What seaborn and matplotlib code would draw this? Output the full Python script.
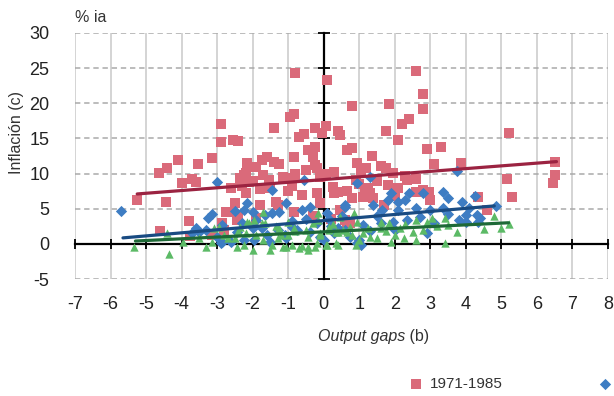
import matplotlib
matplotlib.use("Agg")
import matplotlib.pyplot as plt
import seaborn as sns

# ---------------- data ----------------
periods = ["1971-1985", "", ""]

pink_x = [-5.25, -4.65, -4.4, -4.1, -4.0, -3.7, -3.6, -3.55, -3.15, -4.45, -3.8, -4.6, -2.85, -2.7, -3.75, -3.15,
          -2.9, -2.9, -2.55, -2.4, -2.15, -2.2, -2.35, -2.1, -2.3, -1.9, -1.75, -1.6, -1.4, -1.4, -1.25, -1.1,
          -0.85, -0.95, -0.85, -0.8, -0.7, -0.55, -0.45, -0.25, -0.3, -0.2, -0.2,
          0.1, 0.05, -0.05, 0.4, 0.45, 0.8, 0.65, 0.8, -0.25, -0.4, 1.35, 1.85, 1.75, 2.1, 2.2, 2.4, 2.6, 2.8,
          2.8, 2.9, 3.3, 3.1, 3.85, 5.2, 5.15, 5.3, 6.5, 6.5, 6.45, 1.6, 1.75, 1.05, 1.2, 1.95, 2.3, 2.35, 2.6,
          0.9, 0.25, 0.3, 0.65, 1.15, 1.3, 1.8, 2.95, 2.8, 4.35, 4.6,
          -0.8, -0.5, -0.25, 0.05, 0.3, -0.1,
          -2.25, -2.35, -2.0, -1.55, -1.15, -0.8, -1.35, -1.8, -2.2, -2.5, -2.45, -2.4, -2.75, -1.9, -1.3, -0.6,
          -0.1, 0.4, 0.45, 0.65, -0.85,
          1.7, 3.0, 2.6, 0.8, 1.1, 1.4, 0.6, 0.75, 1.0, 1.5, 2.1, 2.0,
          -1.7, -1.5, -1.0, -0.9, -1.8, -2.6, -2.8, -0.3, 0.2, 1.25, 0.95]
pink_y = [6.3, 10.1, 10.8, 11.9, 8.7, 9.2, 8.8, 11.4, 12.2, 6.0, 3.3, 1.8, 3.0, 4.6, 1.1, 1.3,
          17.1, 14.5, 14.8, 14.7, 11.5, 10.1, 9.4, 8.8, 8.3, 11.0, 12.0, 12.4, 16.5, 11.7, 11.4, 9.4,
          12.4, 18.1, 18.5, 24.3, 15.2, 15.6, 13.4, 16.5, 12.4, 10.8, 7.2,
          23.3, 16.7, 15.8, 16.0, 15.5, 19.6, 13.4, 13.6, 13.8, 13.4, 12.5, 19.9, 16.0, 14.8, 17.1, 17.8, 24.6, 21.3,
          19.2, 13.5, 13.8, 11.4, 11.5, 15.8, 9.2, 6.7, 11.6, 9.8, 8.7, 11.1, 10.8, 10.2, 10.8, 10.1, 9.7, 9.1, 9.2,
          9.1, 8.1, 7.2, 7.5, 7.7, 7.2, 8.4, 7.4, 7.7, 6.7, 4.8,
          10.0, 10.5, 11.2, 10.0, 10.2, 9.5,
          9.8, 8.7, 8.9, 9.1, 9.5, 9.5, 6.0, 5.5, 7.2, 5.8, 3.4, 3.8, 4.6, 3.7, 5.5, 7.0,
          5.8, 7.4, 4.8, 3.1, 4.6,
          5.5, 6.3, 7.4, 6.5, 6.7, 6.5, 3.4, 3.0, 8.5, 9.0, 8.0, 6.8,
          9.8, 8.0, 7.5, 8.3, 7.8, 8.0, 2.0, 4.0, 3.5, 8.0, 11.5]

blue_x = [-5.7, -3.0, -3.15, -3.25, -3.6, -3.5, -3.3, -2.85, -2.9, -1.45, -0.55, -2.5, -2.25, -2.15, -2.0, -1.65,
          -1.45, -1.25, -1.05, -0.6, -0.4, 0.1, -2.45, -2.0, -1.75, -1.6, -1.3, -0.9, -0.4, -1.95, -1.5, -2.85,
          -1.05, -0.75, -2.6, -2.25, -3.0, -3.7, -0.2, 0.2, -0.1, 0.3,
          0.95, 1.3, 1.9, 2.4, 2.8, 3.35, 3.5, 3.9, 2.1, 2.3, 1.8, 0.6, 1.4, 1.65, 2.1, 2.6, 3.0, 3.35, 3.8, 2.35,
          1.95, 1.6, 1.1, 0.95, 1.05, 0.75,
          4.25, 4.0, 4.3, 4.4, 4.85, 4.1, 4.0, 4.35, 0.6, 3.75,
          0.15, 0.4, 0.5, -0.5, -0.9, -1.9, -2.3, -1.1, 0.0, 0.6, 1.3, 1.5, 2.0, 2.7, 3.1, 3.5, 2.9, 1.0]
blue_y = [4.7, 8.8, 4.3, 3.7, 2.3, 1.7, 2.0, 2.7, 0.1, 7.6, 9.1, 4.7, 4.8, 5.8, 4.6, 4.1,
          4.4, 4.6, 5.8, 4.8, 5.3, 4.4, 1.7, 2.3, 2.3, 1.3, 2.0, 2.4, 1.7, 0.6, 0.3, 0.3,
          0.9, 2.0, 0.3, 0.5, 1.0, 1.6, 3.0, 2.6, 1.0, 1.5,
          8.7, 9.5, 7.2, 7.3, 7.2, 7.4, 6.5, 6.0, 6.0, 6.3, 6.3, 5.3, 5.5, 4.8, 4.8, 5.1, 4.8, 5.1, 3.4, 3.4,
          3.1, 3.0, 2.7, 0.1, -0.1, 1.0,
          6.8, 4.1, 4.1, 3.7, 5.4, 5.1, 3.1, 3.1, 5.5, 10.4,
          3.5, 2.2, 4.0, 3.5, 3.2, 3.4, 2.9, 1.3, 0.5, 2.0, 1.8, 4.0, 2.0, 3.8, 3.0, 4.2, 1.5, 0.5]

green_x = [-5.35, -4.35, -3.95, -3.3, -3.15, -3.1, -2.95, -4.4, -2.45, -2.15, -2.0, -1.7, -1.5, -1.15, -1.05,
           -0.7, -0.45, -0.25, -2.2, -1.75, -1.2, -1.0, -0.15, 0.85, 1.9, 2.25, 2.6, 2.6, 3.05, 3.4, 3.4, 3.75,
           4.5, 4.8, 5.0, 5.2, 0.35, 0.9, 0.05, -0.6, 1.85, 1.6, 2.15, 2.5, 2.9, 1.25, 1.0, 1.3, 0.75, 0.35,
           0.55, 0.15, -0.1, 0.45, 0.95, 1.6, 1.75,
           -1.95, -2.1, -2.35, -1.65, -1.35, -1.25, -0.85, -0.5, -0.15, -2.7, -2.5, -2.25, -1.7, -1.45, -0.9,
           -0.45, -0.2, 0.1, 0.4, -1.3, -1.0, -0.45, -0.1, 0.15, 0.4, 0.65, 0.25, -2.8, -3.5, -0.8, -1.9, 1.1,
           1.5, 2.0, 2.3, 2.8, 3.2, 3.5, -2.4, -0.3, 0.8]
green_y = [-0.4, -1.4, 0.3, -0.4, 0.2, 2.3, 2.4, 1.6, -0.4, 3.1, -0.9, 4.6, -0.9, -0.4, -0.5,
           -0.6, -0.9, -0.5, 1.6, 3.0, 1.3, 3.1, 4.4, 4.4, 0.3, 0.8, 0.5, 3.4, 3.7, 3.7, 0.1, 1.7,
           2.1, 4.0, 2.2, 2.8, 0.1, -0.1, -0.2, -0.3, 3.0, 3.1, 2.3, 1.7, 3.1, 2.3, 0.6, 1.0, 2.4, 1.7,
           2.0, 2.0, 1.6, 3.8, 3.1, 2.2, 1.8,
           3.4, 3.0, 2.4, 3.0, 2.6, 2.3, 2.3, 2.0, 3.4, 0.8, 0.9, -0.1, 0.6, -0.1, -0.1,
           -0.4, 0.1, -0.1, -0.1, 0.8, 1.3, 1.0, 1.3, 2.4, 1.7, 1.7, 2.8, 1.3, 0.8, 1.8, 1.2, 1.5,
           0.9, 1.2, 2.8, 2.0, 2.5, 2.7, 1.9, 2.9, 1.2]

# trend lines (end points)
trend_pink_x, trend_pink_y = [-5.25, 6.55], [7.1, 11.7]
trend_blue_x, trend_blue_y = [-5.65, 4.8], [0.85, 5.4]
trend_green_x, trend_green_y = [-5.3, 5.2], [0.4, 3.0]

x_ticks = list(range(-7, 9))
y_ticks = list(range(-5, 31, 5))

# ---------------- styling ----------------
sns.set_theme(style="white")
plt.rcParams["font.family"] = ["Liberation Sans", "DejaVu Sans"]

c_pink, c_blue, c_green = "#DA6A7A", "#3E7DC3", "#5CBA66"
t_pink, t_blue, t_green = "#9B2341", "#194B82", "#1E6937"
txt = "#222222"

fig = plt.figure(figsize=(6.14, 3.96), dpi=100)
ax = fig.add_axes([75 / 614, 117 / 396, 533 / 614, 246 / 396])

sns.scatterplot(x=pink_x, y=pink_y, ax=ax, marker="s", s=44, color=c_pink, linewidth=0,
                label="pink", zorder=3)
sns.scatterplot(x=blue_x, y=blue_y, ax=ax, marker="D", s=33, color=c_blue, linewidth=0,
                label="blue", zorder=3)
sns.scatterplot(x=green_x, y=green_y, ax=ax, marker="^", s=36, color=c_green, linewidth=0,
                label="green", zorder=3)

sns.lineplot(x=trend_pink_x, y=trend_pink_y, ax=ax, color=t_pink, lw=2.3, zorder=4)
sns.lineplot(x=trend_blue_x, y=trend_blue_y, ax=ax, color=t_blue, lw=2.3, zorder=4)
sns.lineplot(x=trend_green_x, y=trend_green_y, ax=ax, color=t_green, lw=2.3, zorder=4)

handles, _ = ax.get_legend_handles_labels()
handles = handles[:3]
if ax.get_legend() is not None:
    ax.get_legend().remove()

ax.set_xlim(-7, 8)
ax.set_ylim(-5, 30)
ax.set_xticks(x_ticks)
ax.set_yticks(y_ticks)
ax.set_xticklabels([str(v) for v in x_ticks])
ax.set_yticklabels([str(v) for v in y_ticks])

# grid
ax.set_axisbelow(True)
ax.grid(axis="x", color="#c9c9c9", lw=1.1, ls="-")
ax.grid(axis="y", color="#a9a9a9", lw=1.1, ls=(0, (3.5, 2.5)))

# axes lines through zero
for s in ["left", "bottom"]:
    ax.spines[s].set_visible(False)
ax.spines["top"].set_position(("data", 0))
ax.spines["right"].set_position(("data", 0))
for s in ["top", "right"]:
    ax.spines[s].set_color("black")
    ax.spines[s].set_linewidth(1.6)
    ax.spines[s].set_zorder(2)

ax.tick_params(axis="x", bottom=False, top=True, labelbottom=True, labeltop=False,
               direction="inout", length=7, width=1.3, color="black", pad=9,
               labelsize=13, labelcolor=txt)
ax.tick_params(axis="y", left=False, right=True, labelleft=True, labelright=False,
               direction="inout", length=9, width=1.3, color="black", pad=14,
               labelsize=13, labelcolor=txt)
ax.set_xlabel("")
ax.set_ylabel("")

# texts
fig.text(75 / 614, 1 - 18 / 396, "% ia", fontsize=11.5, color="#333333", ha="left", va="center")
fig.text(17 / 614, 1 - 133 / 396, "Inflación (c)", fontsize=11.5, color="#333333",
         rotation=90, ha="center", va="center")
t = fig.text(318 / 614, 1 - 337 / 396, "Output gaps", fontsize=11.5, color="#333333",
             style="italic", ha="left", va="center")
ax.annotate(" (b)", xy=(1, 0), xycoords=t, fontsize=11.5, color="#333333", ha="left", va="bottom")

fig.legend(handles[:2], periods[:2], loc="center left", bbox_to_anchor=(408 / 614, 1 - 384 / 396),
           ncol=2, frameon=False, fontsize=11, handlelength=1.0, handletextpad=0.4,
           columnspacing=6.2, borderaxespad=0, borderpad=0, labelcolor="#333333")

fig.savefig("out.png", dpi=100)
